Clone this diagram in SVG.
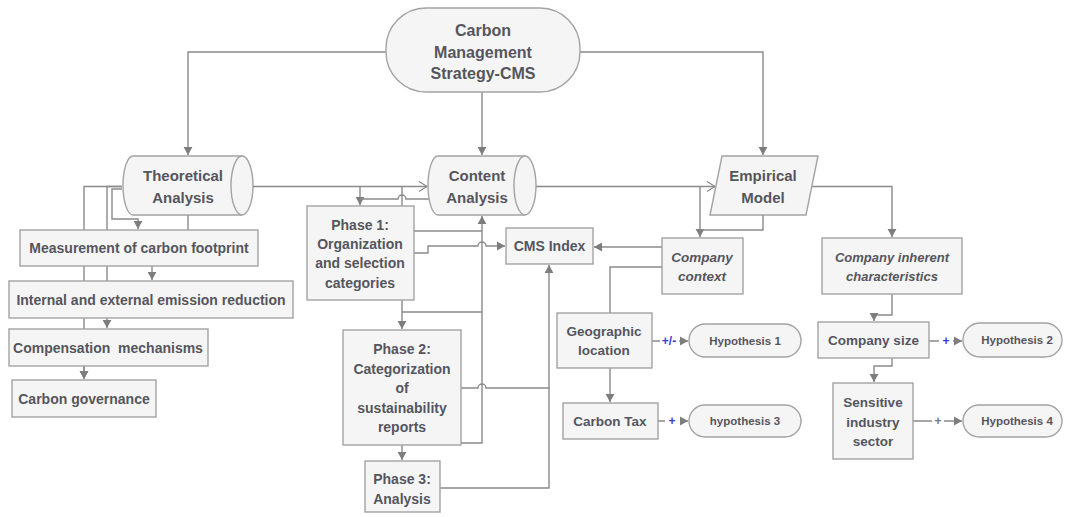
<svg xmlns="http://www.w3.org/2000/svg" width="1066" height="517" viewBox="0 0 1066 517">
<style>
.n{fill:#f5f5f5;stroke:#a3a3a3;stroke-width:1.4}
.c{fill:none;stroke:#8a8a8a;stroke-width:1.4}
.t{font-family:"Liberation Sans",Arial,sans-serif;font-weight:bold;fill:#55555e;text-anchor:middle;dominant-baseline:central}
.i{font-style:italic}
.lb{font-family:"Liberation Sans",Arial,sans-serif;font-weight:bold;font-size:12px;fill:#3a3adc;text-anchor:middle;dominant-baseline:central}
</style>
<defs>
<marker id="a" markerWidth="10" markerHeight="10" refX="8" refY="5" orient="auto" markerUnits="userSpaceOnUse"><path d="M0,0.6 L8,5 L0,9.4 Z" fill="#7d7d7d"/></marker>
<marker id="o" markerWidth="12" markerHeight="12" refX="9" refY="6" orient="auto" markerUnits="userSpaceOnUse"><path d="M1,1 L9,6 L1,11" fill="none" stroke="#8a8a8a" stroke-width="1.2"/></marker>
</defs>
<g id="connectors">
<path class="c" d="M386,52 H188 V155" marker-end="url(#a)"/>
<path class="c" d="M482,92 V155" marker-end="url(#a)"/>
<path class="c" d="M580,52 H763 V155" marker-end="url(#a)"/>
<path class="c" d="M254,186.5 H427" marker-start="url(#o)" marker-end="url(#o)"/>
<path class="c" d="M537,186.5 H715" marker-start="url(#o)" marker-end="url(#o)"/>
<path class="c" d="M122,186.5 H84 V379" marker-end="url(#a)"/>
<path class="c" d="M122,186.5 H107 V328" marker-end="url(#a)"/>
<path class="c" d="M122,189 H112 V219 H138 V229" marker-end="url(#a)"/>
<path class="c" d="M188,215 V230"/>
<path class="c" d="M152,266 V280" marker-end="url(#a)"/>
<path class="c" d="M84,366 V379" marker-end="url(#a)"/>
<path class="c" d="M360,186.5 V205" marker-end="url(#a)"/>
<path class="c" d="M402,186.5 V206"/>
<path class="c" d="M430,199 H406 a4,4 0 0 0 -8,0 H360"/>
<path class="c" d="M414,231 H482"/>
<path class="c" d="M414,253 H428 V246 H478 a4,4 0 0 1 8,0 H505" marker-end="url(#a)"/>
<path class="c" d="M461,443 H482 V216" marker-end="url(#a)"/>
<path class="c" d="M402,300 V329" marker-end="url(#a)"/>
<path class="c" d="M402,312 H482"/>
<path class="c" d="M461,388 H478 a4,4 0 0 1 8,0 H549 V265" marker-end="url(#a)"/>
<path class="c" d="M440,488 H549 V388"/>
<path class="c" d="M402,445 V460" marker-end="url(#a)"/>
<path class="c" d="M662,247 H594" marker-end="url(#a)"/>
<path class="c" d="M700,186.5 V237" marker-end="url(#a)"/>
<path class="c" d="M763,215 V230 H700"/>
<path class="c" d="M812,186.5 H892 V237" marker-end="url(#a)"/>
<path class="c" d="M662,267 H610 V313"/>
<path class="c" d="M610,368 V402" marker-end="url(#a)"/>
<path class="c" d="M652,341 H660 M679,341 H688" marker-end="url(#a)"/>
<path class="c" d="M658,421 H665 M680,421 H688" marker-end="url(#a)"/>
<path class="c" d="M892,294 V315 H874 V321" marker-end="url(#a)"/>
<path class="c" d="M892,358 V366 H874 V382" marker-end="url(#a)"/>
<path class="c" d="M929,341 H939 M953,341 H962" marker-end="url(#a)"/>
<path class="c" d="M913,421 H932 M944,421 H962" marker-end="url(#a)"/>
<text class="lb" x="669" y="341">+/-</text>
<text class="lb" x="672" y="421">+</text>
<text class="lb" x="946" y="341">+</text>
<text class="lb" x="938" y="421" style="fill:#777">+</text>
</g>
<g id="cms">
<rect class="n" x="386" y="8" width="194" height="84" rx="40" ry="40"/>
<text class="t" x="483" y="30" font-size="16">Carbon</text>
<text class="t" x="483" y="52" font-size="16">Management</text>
<text class="t" x="483" y="73" font-size="16">Strategy-CMS</text>
</g>
<g id="theoretical">
<path class="n" d="M133,156 H242 A11,29.5 0 0 1 242,215 H133 A10,29.5 0 0 1 133,156 Z"/>
<path class="n" d="M242,156 A11,29.5 0 0 0 242,215"/>
<text class="t" x="183" y="175" font-size="15">Theoretical</text>
<text class="t" x="183" y="197" font-size="15">Analysis</text>
</g>
<g id="content">
<path class="n" d="M438,156 H525 A11,29.5 0 0 1 525,215 H438 A10,29.5 0 0 1 438,156 Z"/>
<path class="n" d="M525,156 A11,29.5 0 0 0 525,215"/>
<text class="t" x="477" y="175" font-size="15">Content</text>
<text class="t" x="477" y="197" font-size="15">Analysis</text>
</g>
<g id="empirical">
<path class="n" d="M722,156 H818 L806,215 H710 Z"/>
<text class="t" x="763" y="175" font-size="15">Empirical</text>
<text class="t" x="763" y="197" font-size="15">Model</text>
</g>
<g id="measurement">
<rect class="n" x="20" y="230" width="238" height="36"/>
<text class="t" x="139" y="248" font-size="14">Measurement of carbon footprint</text>
</g>
<g id="internal">
<rect class="n" x="9" y="281" width="284" height="37"/>
<text class="t" x="151" y="299.5" font-size="14">Internal and external emission reduction</text>
</g>
<g id="compensation">
<rect class="n" x="9" y="329" width="199" height="37"/>
<text class="t" x="108" y="347.5" font-size="14" xml:space="preserve">Compensation  mechanisms</text>
</g>
<g id="governance">
<rect class="n" x="12" y="380" width="144" height="37"/>
<text class="t" x="84" y="398.5" font-size="14">Carbon governance</text>
</g>
<g id="phase1">
<rect class="n" x="307" y="206" width="107" height="94"/>
<text class="t" x="360" y="225" font-size="14">Phase 1:</text>
<text class="t" x="360" y="244" font-size="14">Organization</text>
<text class="t" x="360" y="263" font-size="14">and selection</text>
<text class="t" x="360" y="283" font-size="14">categories</text>
</g>
<g id="phase2">
<rect class="n" x="343" y="330" width="118" height="115"/>
<text class="t" x="402" y="349" font-size="14">Phase 2:</text>
<text class="t" x="402" y="369" font-size="14">Categorization</text>
<text class="t" x="402" y="388" font-size="14">of</text>
<text class="t" x="402" y="408" font-size="14">sustainability</text>
<text class="t" x="402" y="427" font-size="14">reports</text>
</g>
<g id="phase3">
<rect class="n" x="365" y="461" width="75" height="51"/>
<text class="t" x="402" y="479" font-size="14">Phase 3:</text>
<text class="t" x="402" y="499" font-size="14">Analysis</text>
</g>
<g id="cmsindex">
<rect class="n" x="506" y="228" width="87" height="36"/>
<text class="t" x="549.5" y="246" font-size="14">CMS Index</text>
</g>
<g id="context">
<rect class="n" x="662" y="238" width="81" height="56"/>
<text class="t i" x="702" y="257" font-size="13.5">Company</text>
<text class="t i" x="702" y="276" font-size="13.5">context</text>
</g>
<g id="inherent">
<rect class="n" x="822" y="238" width="140" height="56"/>
<text class="t i" x="892" y="257" font-size="13">Company inherent</text>
<text class="t i" x="892" y="276" font-size="13">characteristics</text>
</g>
<g id="geographic">
<rect class="n" x="557" y="313" width="95" height="55"/>
<text class="t" x="604" y="331" font-size="13.5">Geographic</text>
<text class="t" x="604" y="350" font-size="13.5">location</text>
</g>
<g id="carbontax">
<rect class="n" x="563" y="403" width="95" height="36"/>
<text class="t" x="610" y="421" font-size="13.5">Carbon Tax</text>
</g>
<g id="size">
<rect class="n" x="818" y="322" width="111" height="36"/>
<text class="t" x="873.5" y="340.5" font-size="13.5">Company size</text>
</g>
<g id="sensitive">
<rect class="n" x="833" y="383" width="80" height="76"/>
<text class="t" x="873" y="402" font-size="13.5">Sensitive</text>
<text class="t" x="873" y="422" font-size="13.5">industry</text>
<text class="t" x="873" y="441" font-size="13.5">sector</text>
</g>
<g id="h1">
<rect class="n" x="689" y="324" width="112" height="33" rx="16.5"/>
<text class="t" x="745" y="340.5" font-size="11.5">Hypothesis 1</text>
</g>
<g id="h3">
<rect class="n" x="689" y="405" width="112" height="32" rx="16"/>
<text class="t" x="745" y="421" font-size="11.5">hypothesis 3</text>
</g>
<g id="h2">
<rect class="n" x="963" y="323" width="99" height="34" rx="17"/>
<text class="t" x="1017" y="340" font-size="11.5">Hypothesis 2</text>
</g>
<g id="h4">
<rect class="n" x="963" y="405" width="99" height="32" rx="16"/>
<text class="t" x="1017" y="421" font-size="11.5">Hypothesis 4</text>
</g>
</svg>
